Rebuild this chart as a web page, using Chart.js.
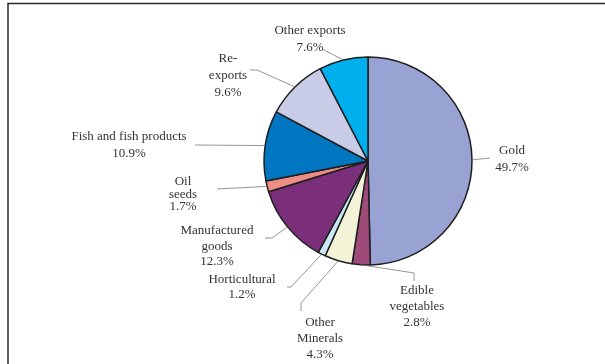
<!DOCTYPE html>
<html>
<head>
<meta charset="utf-8">
<script src="https://cdn.jsdelivr.net/npm/chart.js@4/dist/chart.umd.min.js"></script>
<style>
  html, body { margin: 0; padding: 0; background: #fff; }
  canvas { display: block; }
</style>
</head>
<body>
<canvas id="exports-pie" width="605" height="364"></canvas>
<script>
// Export shares (%) by product group, clockwise from 12 o'clock
const categories = [
    'Gold', 'Edible vegetables', 'Other Minerals', 'Horticultural',
    'Manufactured goods', 'Oil seeds', 'Fish and fish products',
    'Re-exports', 'Other exports'
];
const shares = [49.7, 2.8, 4.3, 1.2, 12.3, 1.7, 10.9, 9.6, 7.6];
const sliceColors = [
    '#99a3d3', '#9e4b79', '#f3f3d8', '#c9e9f6',
    '#7b2f7a', '#ee8c86', '#0077c0', '#c8cce6', '#00b0ee'
];

// how each category name is broken over lines in its label
const labelLines = [
    ['Gold'], ['Edible', 'vegetables'], ['Other', 'Minerals'], ['Horticultural'],
    ['Manufactured', 'goods'], ['Oil', 'seeds'], ['Fish and fish products'],
    ['Re-', 'exports'], ['Other exports']
];

// label placement: text centre, first line y, line height, leader path after the slice edge
const labelLayout = [
    { x: 512, y: 151, lh: 17, path: [[490, 158]] },
    { x: 417, y: 291, lh: 16, path: [[414, 273], [414, 281]] },
    { x: 320, y: 323, lh: 16, path: [[301, 303], [301, 311]] },
    { x: 242, y: 280, lh: 15, path: [[291, 287], [287, 287]] },
    { x: 217, y: 231, lh: 15.5, path: [[272, 238], [265, 238]] },
    { x: 183, y: 182, lh: 12.5, path: [[217, 189]] },
    { x: 129, y: 137, lh: 17, path: [[195, 145]] },
    { x: 228, y: 59, lh: 17, path: [[257, 70], [250, 70]] },
    { x: 310, y: 31, lh: 17, path: [[322, 49]] }
];

const frame = {
    id: 'frame',
    beforeDraw(chart) {
        const ctx = chart.ctx;
        ctx.save();
        ctx.strokeStyle = '#2b2b2b';
        ctx.lineWidth = 1.5;
        ctx.beginPath();
        ctx.moveTo(8, 370);
        ctx.lineTo(8, 3.5);
        ctx.lineTo(610, 3.5);
        ctx.stroke();
        ctx.restore();
    }
};

const sliceLabels = {
    id: 'sliceLabels',
    afterDatasetsDraw(chart) {
        const ctx = chart.ctx;
        const arcs = chart.getDatasetMeta(0).data;
        ctx.save();
        arcs.forEach((arc, i) => {
            const { x, y, outerRadius, startAngle, endAngle } = arc.getProps(
                ['x', 'y', 'outerRadius', 'startAngle', 'endAngle'], true);
            const mid = (startAngle + endAngle) / 2;
            const lay = labelLayout[i];

            // leader line from the rim of the slice
            ctx.strokeStyle = '#7a7a7a';
            ctx.lineWidth = 0.8;
            ctx.beginPath();
            ctx.moveTo(x + Math.cos(mid) * outerRadius, y + Math.sin(mid) * outerRadius);
            lay.path.forEach(p => ctx.lineTo(p[0], p[1]));
            ctx.stroke();

            const lines = labelLines[i].concat(shares[i].toFixed(1) + '%');
            ctx.fillStyle = '#333';
            ctx.font = '13px "Liberation Serif", "Times New Roman", serif';
            ctx.textAlign = 'center';
            ctx.textBaseline = 'middle';
            lines.forEach((t, k) => ctx.fillText(t, lay.x, lay.y + k * lay.lh));
        });
        ctx.restore();
    }
};

new Chart(document.getElementById('exports-pie'), {
    type: 'pie',
    data: {
        labels: categories,
        datasets: [{
            data: shares,
            backgroundColor: sliceColors,
            borderColor: '#1e1e1e',
            borderWidth: 1.5
        }]
    },
    options: {
        responsive: false,
        animation: false,
        events: [],
        radius: 104,
        layout: { padding: { left: 264, right: 133, top: 57, bottom: 99 } },
        plugins: {
            legend: { display: false },
            tooltip: { enabled: false }
        }
    },
    plugins: [frame, sliceLabels]
});
</script>
</body>
</html>
